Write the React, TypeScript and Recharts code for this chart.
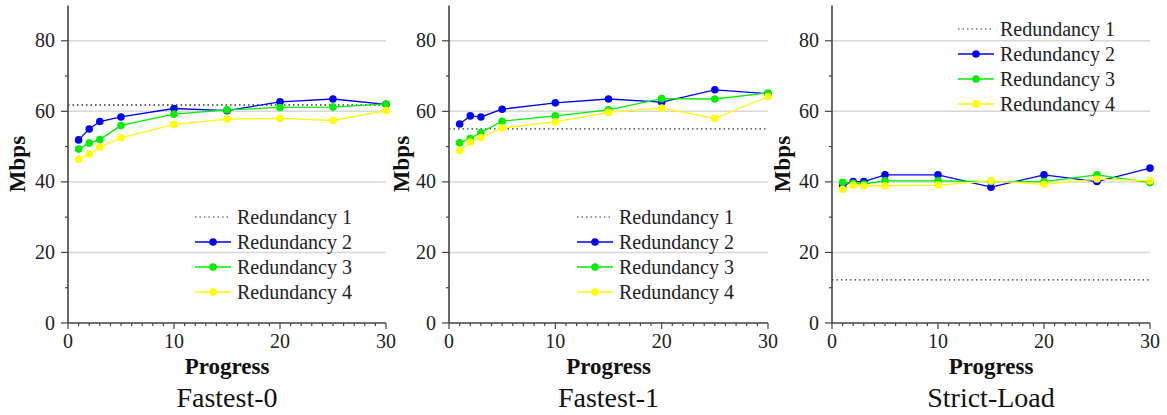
import React from "react";
import { LineChart, Line, XAxis, YAxis, CartesianGrid, ReferenceLine } from "recharts";

// progress checkpoints (x axis)
const progress = [1, 2, 3, 5, 10, 15, 20, 25, 30];

// Fastest-0
const fastest0R1 = 61.8;
const fastest0R2 = [51.9, 55.0, 57.1, 58.4, 60.8, 60.2, 62.7, 63.5, 62.0];
const fastest0R3 = [49.3, 51.0, 52.0, 56.0, 59.2, 60.4, 61.1, 61.2, 62.1];
const fastest0R4 = [46.4, 47.9, 49.9, 52.5, 56.3, 57.8, 58.0, 57.4, 60.2];

// Fastest-1
const fastest1R1 = 55.0;
const fastest1R2 = [56.4, 58.7, 58.4, 60.6, 62.4, 63.5, 62.6, 66.1, 65.0];
const fastest1R3 = [51.1, 52.3, 54.0, 57.2, 58.7, 60.4, 63.6, 63.5, 65.2];
const fastest1R4 = [48.9, 51.3, 52.6, 55.3, 57.0, 59.7, 60.9, 58.0, 64.2];

// Strict-Load
const strictR1 = 12.2;
const strictR2 = [38.9, 40.1, 40.1, 42.0, 42.0, 38.5, 42.0, 40.1, 43.9];
const strictR3 = [39.9, 39.6, 39.4, 40.3, 40.3, 40.1, 40.1, 42.0, 39.8];
const strictR4 = [37.9, 39.1, 38.9, 38.9, 39.1, 40.3, 39.3, 40.8, 40.3];

const xMajor = [0, 10, 20, 30];
const xTicks = Array.from({ length: 31 }, (_, i) => i);
const yMajor = [0, 20, 40, 60, 80];
const yTicks = [0, 10, 20, 30, 40, 50, 60, 70, 80];
const gridValues = [20, 40, 60, 80];

const seriesNames = ["Redundancy 1", "Redundancy 2", "Redundancy 3", "Redundancy 4"];
const COLORS = { r1: "#333", r2: "#0000ff", r3: "#00ee00", r4: "#ffff00" };
const FONT = "Liberation Serif";
const AXIS = "#444";

const XTick = (props: any) => {
  const { x, y, payload } = props;
  const major = xMajor.includes(payload.value);
  return (
    <g>
      <line x1={x} x2={x} y1={y} y2={y + (major ? 6 : 3)} stroke={AXIS} strokeWidth={1.2} />
      {major && (
        <text x={x} y={y + 25} textAnchor="middle" style={{ fontFamily: FONT, fontSize: 20 }} fill="#222">
          {payload.value}
        </text>
      )}
    </g>
  );
};

const YTick = (props: any) => {
  const { x, y, payload } = props;
  const major = yMajor.includes(payload.value);
  return (
    <g>
      <line x1={x - (major ? 7 : 3)} x2={x} y1={y} y2={y} stroke={AXIS} strokeWidth={1.2} />
      {major && (
        <text x={x - 13} y={y + 6.5} textAnchor="end" style={{ fontFamily: FONT, fontSize: 20 }} fill="#222">
          {payload.value}
        </text>
      )}
    </g>
  );
};

const LegendBox: React.FC<{ left: number; top: number }> = ({ left, top }) => {
  const colors = [COLORS.r1, COLORS.r2, COLORS.r3, COLORS.r4];
  return (
    <div style={{ position: "absolute", left, top, fontFamily: FONT, fontSize: 20, color: "#222" }}>
      {seriesNames.map((name, i) => (
        <div key={name} style={{ display: "flex", alignItems: "center", height: 25 }}>
          <svg width={36} height={12} style={{ marginRight: 6 }}>
            {i === 0 ? (
              <line x1={0} x2={36} y1={6} y2={6} stroke={colors[i]} strokeWidth={1.2} strokeDasharray="1.5 3" />
            ) : (
              <>
                <line x1={0} x2={36} y1={6} y2={6} stroke={colors[i]} strokeWidth={1.3} />
                <circle cx={18} cy={6} r={3.8} fill={colors[i]} />
              </>
            )}
          </svg>
          <span style={{ whiteSpace: "nowrap", lineHeight: "25px" }}>{name}</span>
        </div>
      ))}
    </div>
  );
};

interface PanelProps {
  left: number;
  width: number;
  marginLeft: number;
  marginRight: number;
  r1: number;
  r2: number[];
  r3: number[];
  r4: number[];
  legendLeft: number;
  legendTop: number;
}

const Panel: React.FC<PanelProps> = ({ left, width, marginLeft, marginRight, r1, r2, r3, r4, legendLeft, legendTop }) => {
  const data = progress.map((x, i) => ({ x, r2: r2[i], r3: r3[i], r4: r4[i] }));
  return (
    <div style={{ position: "absolute", left, top: 0, width, height: 415 }}>
      <LineChart
        width={width}
        height={415}
        data={data}
        margin={{ top: 5.5, right: marginRight, left: marginLeft, bottom: 62 }}
        style={{ overflow: "visible" }}
      >
        <CartesianGrid horizontal vertical={false} horizontalValues={gridValues} stroke="#d8d8d8" strokeWidth={1.5} />
        <XAxis
          dataKey="x"
          type="number"
          domain={[0, 30]}
          ticks={xTicks}
          interval={0}
          tick={<XTick />}
          tickLine={false}
          tickSize={0}
          tickMargin={0}
          height={30}
          axisLine={{ stroke: AXIS, strokeWidth: 1.6 }}
        />
        <YAxis
          type="number"
          domain={[0, 90]}
          ticks={yTicks}
          interval={0}
          tick={<YTick />}
          tickLine={false}
          tickSize={0}
          tickMargin={0}
          width={40}
          axisLine={{ stroke: AXIS, strokeWidth: 1.6 }}
        />
        <ReferenceLine y={r1} stroke={COLORS.r1} strokeWidth={1.3} strokeDasharray="1.5 3" />
        <Line dataKey="r2" stroke={COLORS.r2} strokeWidth={1.3} dot={{ r: 3.8, fill: COLORS.r2, stroke: "none" }} isAnimationActive={false} />
        <Line dataKey="r3" stroke={COLORS.r3} strokeWidth={1.3} dot={{ r: 3.8, fill: COLORS.r3, stroke: "none" }} isAnimationActive={false} />
        <Line dataKey="r4" stroke={COLORS.r4} strokeWidth={1.3} dot={{ r: 3.8, fill: COLORS.r4, stroke: "none" }} isAnimationActive={false} />
      </LineChart>
      <LegendBox left={legendLeft} top={legendTop} />
    </div>
  );
};

const titles = [
  { cx: 227, yLabelX: 25, name: "Fastest-0" },
  { cx: 608.5, yLabelX: 409, name: "Fastest-1" },
  { cx: 991, yLabelX: 790, name: "Strict-Load" },
];

export default function App() {
  return (
    <div style={{ position: "absolute", left: 0, top: 0, width: 1167, height: 415, background: "#fff" }}>
      <Panel left={0} width={400} marginLeft={28} marginRight={14} r1={fastest0R1} r2={fastest0R2} r3={fastest0R3} r4={fastest0R4} legendLeft={195} legendTop={204.5} />
      <Panel left={385} width={400} marginLeft={24} marginRight={17} r1={fastest1R1} r2={fastest1R2} r3={fastest1R3} r4={fastest1R4} legendLeft={192} legendTop={204.5} />
      <Panel left={775} width={392} marginLeft={17} marginRight={17} r1={strictR1} r2={strictR2} r3={strictR3} r4={strictR4} legendLeft={183} legendTop={16.5} />
      <svg width={1167} height={415} style={{ position: "absolute", left: 0, top: 0, pointerEvents: "none" }}>
        {titles.map((t) => (
          <g key={t.name} style={{ fontFamily: FONT }} fill="#111">
            <text x={t.cx} y={374} textAnchor="middle" fontSize={23} fontWeight="bold">
              Progress
            </text>
            <text x={t.cx} y={407} textAnchor="middle" fontSize={28}>
              {t.name}
            </text>
            <text x={t.yLabelX} y={164} textAnchor="middle" fontSize={23} fontWeight="bold" transform={`rotate(-90 ${t.yLabelX} 164)`}>
              Mbps
            </text>
          </g>
        ))}
      </svg>
    </div>
  );
}
